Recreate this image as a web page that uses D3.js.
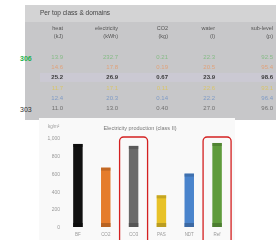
<!DOCTYPE html>
<html><head><meta charset="utf-8">
<script src="https://cdn.jsdelivr.net/npm/d3@7"></script>
<style>
html,body{margin:0;padding:0;background:#fff;}
svg{display:block;font-family:"Liberation Sans",Arial,sans-serif;}
.soft{filter:blur(0.35px);}
</style></head>
<body><div id="c"></div>
<script>
const tableTitle = "Per top class & domains";
const columns = ["heat", "electricity", "CO2", "water", "sub-level"];
const units = ["(kJ)", "(kWh)", "(kg)", "(l)", "(p)"];
const row1 = [13.9, 232.7, 0.21, 22.3, 92.5];
const row2 = [14.6, 17.8, 0.19, 20.5, 95.4];
const row3 = [25.2, 26.9, 0.67, 23.9, 98.6];
const row4 = [11.7, 17.1, 0.11, 22.6, 93.1];
const row5 = [12.4, 20.3, 0.14, 22.2, 96.4];
const row6 = [11.0, 13.0, 0.40, 27.0, 96.0];
const rows = [row1, row2, row3, row4, row5, row6];
const rowColors = ["#86bb86", "#e0a27a", "#3a3a3a", "#d9c46a", "#7f9bc6", "#707070"];
const sideLabels = ["306", "303"];

const chartTitle = "Electricity production (class II)";
const yLabel = "kg/m²";
const categories = ["BF", "CO2", "CO3", "PAS", "NDT", "Ref"];
const values = [933, 667, 911, 356, 600, 944];
const barColors = ["#111111", "#e57c2c", "#6a6a6a", "#e8c228", "#4a84cc", "#5f9b3c"];
const yTicks = [0, 200, 400, 600, 800, 1000];
const highlighted = ["CO3", "Ref"];

const W = 276, H = 240;
const svg = d3.select("#c").append("svg").attr("width", W).attr("height", H);

// ---- table panel ----
const tp = svg.append("g");
tp.append("rect").attr("x", 25).attr("y", 5).attr("width", W - 25).attr("height", 115).attr("fill", "#c7c7c9");
tp.append("rect").attr("x", 25).attr("y", 5).attr("width", W - 25).attr("height", 17).attr("fill", "#d3d3d4");
tp.append("text").attr("class", "soft").attr("x", 40).attr("y", 15).attr("font-size", 6.5).attr("fill", "#444").text(tableTitle);

const colX = d3.scalePoint().domain(d3.range(columns.length)).range([63, 273]);
const colRight = [63, 118, 168, 215, 273];
const rowY = d3.scaleLinear().domain([0, rows.length - 1]).range([59, 110]);

// faint row band for the highlighted (black) row
tp.append("rect").attr("x", 40).attr("y", rowY(2) - 6.5).attr("width", W - 40).attr("height", 9).attr("fill", "#cbc9d3");

const hdr = tp.append("g").attr("class", "soft").attr("font-size", 5.5).attr("fill", "#555").attr("text-anchor", "end");
columns.forEach((c, i) => {
  hdr.append("text").attr("x", colRight[i]).attr("y", 30).text(c);
  hdr.append("text").attr("x", colRight[i]).attr("y", 38).text(units[i]);
});

const body = tp.append("g").attr("class", "soft").attr("text-anchor", "end");
rows.forEach((r, ri) => {
  r.forEach((v, ci) => {
    body.append("text").attr("x", colRight[ci]).attr("y", rowY(ri))
      .attr("font-size", 6).attr("font-weight", ri === 2 ? "bold" : "normal")
      .attr("fill", rowColors[ri]).text(ci === 2 ? v.toFixed(2) : v.toFixed(1));
  });
});

svg.append("text").attr("x", 20).attr("y", 61).attr("font-size", 7).attr("font-weight", "bold").attr("fill", "#22b14c").text(sideLabels[0]);
svg.append("text").attr("x", 20).attr("y", 112).attr("font-size", 7).attr("fill", "#333").text(sideLabels[1]);

// ---- chart panel ----
const cp = svg.append("g");
cp.append("rect").attr("x", 39).attr("y", 118).attr("width", 196).attr("height", 125).attr("fill", "#f9f9f9");
cp.append("text").attr("class", "soft").attr("x", 140).attr("y", 130).attr("text-anchor", "middle").attr("font-size", 5.5).attr("fill", "#777").text(chartTitle);

const y = d3.scaleLinear().domain([0, 1000]).range([227, 138]);
const x = d3.scaleBand().domain(categories).range([64, 231]).paddingInner(0.66).paddingOuter(0.33);

const yAxis = d3.axisLeft(y).tickValues(yTicks).tickSize(0).tickFormat(d3.format(",d"));
const ya = cp.append("g").attr("class", "soft").attr("transform", "translate(60,0)").call(yAxis);
ya.select(".domain").remove();
ya.selectAll("text").attr("font-size", 5).attr("fill", "#999").attr("x", 0);
cp.append("text").attr("class", "soft").attr("x", 48).attr("y", 128).attr("font-size", 4.5).attr("fill", "#999").text(yLabel);

const bars = cp.append("g");
categories.forEach((c, i) => {
  const col = d3.color(barColors[i]);
  const dark = col.darker(0.8);
  bars.append("rect").attr("x", x(c)).attr("y", y(values[i])).attr("width", x.bandwidth())
    .attr("height", y(0) - y(values[i])).attr("fill", barColors[i]);
  bars.append("rect").attr("x", x(c)).attr("y", y(values[i])).attr("width", x.bandwidth())
    .attr("height", 3).attr("fill", dark).attr("opacity", 0.6);
  bars.append("rect").attr("x", x(c)).attr("y", y(0) - 4).attr("width", x.bandwidth())
    .attr("height", 4).attr("fill", dark).attr("opacity", 0.8);
});

const xAxis = d3.axisBottom(x).tickSize(0);
const xa = cp.append("g").attr("class", "soft").attr("transform", `translate(0,${y(0) + 3})`).call(xAxis);
xa.select(".domain").remove();
xa.selectAll("text").attr("font-size", 4.5).attr("fill", "#999");

highlighted.forEach(c => {
  const cx = x(c) + x.bandwidth() / 2;
  cp.append("rect").attr("x", cx - 14).attr("y", 137).attr("width", 28).attr("height", 110)
    .attr("rx", 4).attr("fill", "none").attr("stroke", "#d42020").attr("stroke-width", 1.3);
});
</script></body></html>
